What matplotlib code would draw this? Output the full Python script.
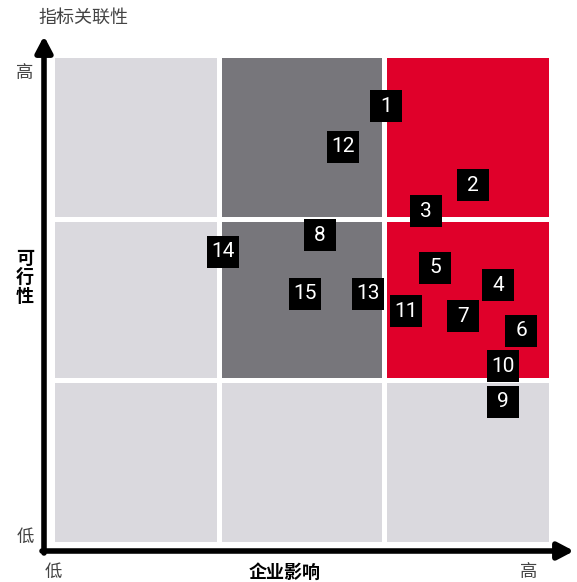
import numpy as np
import matplotlib
matplotlib.use("Agg")
import matplotlib.pyplot as plt
from matplotlib.patches import Rectangle

plt.rcParams['font.family'] = ['Noto Sans CJK SC', 'DejaVu Sans']

# grid cell colours, rows from bottom (low relevance) to top
LIGHT = '#dad9de'
DARK = '#77767b'
RED = '#e0002a'
cell_colors = [
    [LIGHT, LIGHT, LIGHT],
    [LIGHT, DARK, RED],
    [LIGHT, DARK, RED],
]

# numbered items: x = 企业影响, y = 指标关联性 (0..3 scale)
labels = ['1', '2', '3', '4', '5', '6', '7', '8', '9', '10', '11', '12', '13', '14', '15']
impact = [2.01, 2.54, 2.25, 2.69, 2.31, 2.83, 2.48, 1.61, 2.72, 2.72, 2.13, 1.75, 1.90, 1.02, 1.52]
relevance = [2.70, 2.21, 2.05, 1.59, 1.70, 1.31, 1.40, 1.90, 0.87, 1.09, 1.43, 2.45, 1.54, 1.80, 1.54]

W, H = 577, 582
fig = plt.figure(figsize=(W / 100, H / 100), dpi=100)

# overlay in pixel coords for axis arrows
ov = fig.add_axes([0, 0, 1, 1])
ov.set_xlim(0, W)
ov.set_ylim(H, 0)
ov.axis('off')

# main matrix area
left, right, top, bottom = 55, 549, 58, 542
ax = fig.add_axes([left / W, (H - bottom) / H, (right - left) / W, (bottom - top) / H])
ax.set_xlim(0, 3)
ax.set_ylim(0, 3)
ax.axis('off')

gap = 0.014
for r in range(3):
    for c in range(3):
        x0 = c + (gap if c > 0 else 0)
        x1 = c + 1 - (gap if c < 2 else 0)
        y0 = r + (gap if r > 0 else 0)
        y1 = r + 1 - (gap if r < 2 else 0)
        ax.add_patch(Rectangle((x0, y0), x1 - x0, y1 - y0,
                               facecolor=cell_colors[r][c], edgecolor='none'))

ax.scatter(impact, relevance, marker='s', s=32 ** 2 * 0.52, color='black',
           linewidths=0, zorder=3, clip_on=False)
for lab, x, y in zip(labels, impact, relevance):
    ax.text(x, y, lab, color='white', ha='center', va='center',
            fontsize=15, family=['Roboto', 'DejaVu Sans'], zorder=4)

# axes arrows
ov.annotate('', xy=(44, 36), xytext=(44, 553),
            arrowprops=dict(arrowstyle='-|>,head_length=0.95,head_width=0.5',
                            lw=4, color='black', shrinkA=0, shrinkB=0))
ov.annotate('', xy=(574, 551), xytext=(42, 551),
            arrowprops=dict(arrowstyle='-|>,head_length=0.95,head_width=0.5',
                            lw=4, color='black', shrinkA=0, shrinkB=0))

txt = '#444444'
ov.text(38, 18, '指标关联性', fontsize=13, color=txt, ha='left', va='center')
ov.text(25, 73, '高', fontsize=12.5, color=txt, ha='center', va='center')
ov.text(25, 537, '低', fontsize=12.5, color=txt, ha='center', va='center')
ov.text(25, 277, '可\n行\n性', fontsize=13, color='black', fontweight='bold',
        ha='center', va='center', linespacing=1.0)
ov.text(53, 572, '低', fontsize=12.5, color=txt, ha='center', va='center')
ov.text(285, 572, '企业影响', fontsize=13, color='black', fontweight='bold',
        ha='center', va='center')
ov.text(529, 572, '高', fontsize=12.5, color=txt, ha='center', va='center')

fig.savefig('out.png', dpi=100)
